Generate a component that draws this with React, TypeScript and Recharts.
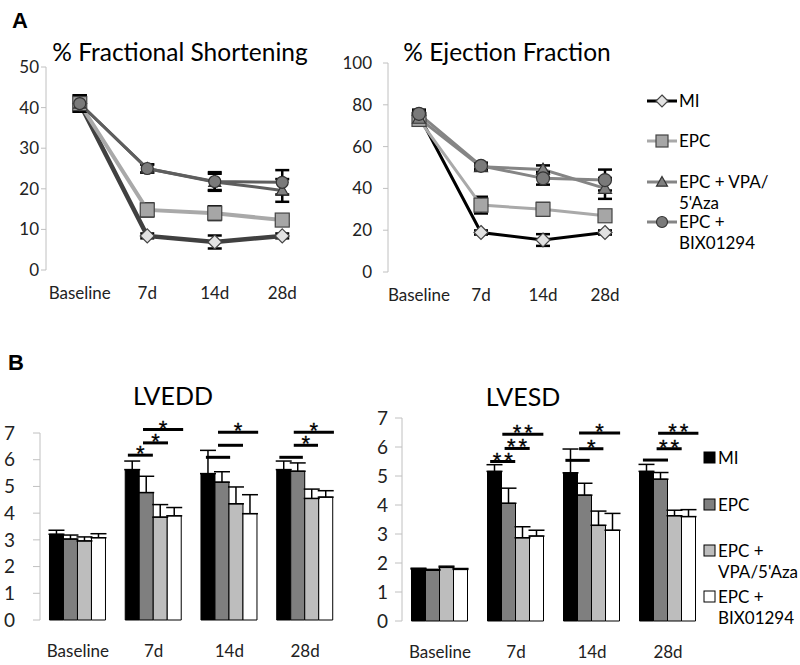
import React from 'react';
import { LineChart, Line, BarChart, Bar, XAxis, YAxis, ErrorBar, ReferenceLine } from 'recharts';

const FONT = 'Lato, "Open Sans", sans-serif';
const STAR_FONT = '"Liberation Sans", Arial, sans-serif';
const AXIS = '#c0c0c0';

const timepoints = ['Baseline', '7d', '14d', '28d'];
const groupNames = ['MI', 'EPC', "EPC + VPA/5'Aza", 'EPC + BIX01294'];

// % Fractional Shortening (mean, SEM)
const fsMI = [41, 8.4, 6.9, 8.4];
const fsMIErr = [2, 0.6, 1.6, 0.6];
const fsEPC = [41, 14.8, 14.0, 12.3];
const fsEPCErr = [2, 1.6, 1.7, 1.0];
const fsVPA = [41, 25.0, 21.7, 19.6];
const fsVPAErr = [2, 1.0, 2.0, 2.8];
const fsBIX = [41, 25.0, 21.8, 21.6];
const fsBIXErr = [2, 1.0, 2.3, 3.0];

// % Ejection Fraction (mean, SEM)
const efMI = [75, 18.9, 15.3, 18.9];
const efMIErr = [2, 1, 2.8, 1];
const efEPC = [73, 32, 30, 26.9];
const efEPCErr = [2, 4, 3, 1];
const efVPA = [73.5, 50.4, 49, 40];
const efVPAErr = [2, 1.5, 2, 5];
const efBIX = [75.7, 50.8, 44.8, 44];
const efBIXErr = [2, 1.5, 3, 5];

// LVEDD (mean, SEM)
const edMI = [3.21, 5.63, 5.48, 5.63];
const edMIErr = [0.15, 0.32, 0.87, 0.32];
const edEPC = [3.03, 4.77, 5.16, 5.57];
const edEPCErr = [0.15, 0.61, 0.39, 0.31];
const edVPA = [2.96, 3.85, 4.35, 4.55];
const edVPAErr = [0.15, 0.47, 0.63, 0.35];
const edBIX = [3.08, 3.9, 3.98, 4.6];
const edBIXErr = [0.15, 0.31, 0.71, 0.24];

// LVESD (mean, SEM)
const esMI = [1.79, 5.16, 5.11, 5.16];
const esMIErr = [0.03, 0.23, 0.82, 0.24];
const esEPC = [1.75, 4.06, 4.34, 4.89];
const esEPCErr = [0.03, 0.52, 0.41, 0.23];
const esVPA = [1.85, 2.87, 3.3, 3.63];
const esVPAErr = [0.04, 0.38, 0.49, 0.19];
const esBIX = [1.78, 2.93, 3.13, 3.6];
const esBIXErr = [0.03, 0.2, 0.58, 0.24];

// significance brackets (x in group units 0..4, y in data units)
const edSigX1 = [1.16, 1.36, 1.36, 2.19, 2.35, 2.35, 3.16, 3.35, 3.35];
const edSigX2 = [1.49, 1.69, 1.89, 2.51, 2.68, 2.88, 3.47, 3.67, 3.88];
const edSigY = [6.17, 6.63, 7.13, 6.09, 6.54, 7.03, 6.09, 6.54, 7.03];
const edSigLabel = ['*', '*', '*', '', '', '*', '', '*', '*'];

const esSigX1 = [1.16, 1.35, 1.32, 2.15, 2.33, 2.33, 3.17, 3.35, 3.37];
const esSigX2 = [1.49, 1.68, 1.86, 2.47, 2.65, 2.87, 3.5, 3.68, 3.9];
const esSigY = [5.5, 5.95, 6.44, 5.54, 5.94, 6.48, 5.55, 5.94, 6.47];
const esSigLabel = ['**', '**', '**', '', '*', '*', '', '**', '**'];

const fsTicks = [0, 10, 20, 30, 40, 50];
const efTicks = [0, 20, 40, 60, 80, 100];
const barTicks = [0, 1, 2, 3, 4, 5, 6, 7];
const groupTicks = [0, 1, 2, 3, 4];

const barFills = ['#000000', '#7f7f7f', '#bdbdbd', '#ffffff'];

const makeRows = (a: number[], ae: number[], b: number[], be: number[], c: number[], ce: number[], d: number[], de: number[], asPair: boolean) =>
  timepoints.map((t, i) => ({
    t,
    idx: i,
    mi: a[i], miErr: asPair ? [0, ae[i]] : ae[i],
    epc: b[i], epcErr: asPair ? [0, be[i]] : be[i],
    vpa: c[i], vpaErr: asPair ? [0, ce[i]] : ce[i],
    bix: d[i], bixErr: asPair ? [0, de[i]] : de[i],
  }));

const fsData = makeRows(fsMI, fsMIErr, fsEPC, fsEPCErr, fsVPA, fsVPAErr, fsBIX, fsBIXErr, false);
const efData = makeRows(efMI, efMIErr, efEPC, efEPCErr, efVPA, efVPAErr, efBIX, efBIXErr, false);
const edData = makeRows(edMI, edMIErr, edEPC, edEPCErr, edVPA, edVPAErr, edBIX, edBIXErr, true);
const esData = makeRows(esMI, esMIErr, esEPC, esEPCErr, esVPA, esVPAErr, esBIX, esBIXErr, true);

type Shape = 'diamond' | 'square' | 'triangle' | 'circle';

function Marker({ shape, cx, cy, fill, stroke, size }: { shape: Shape; cx: number; cy: number; fill: string; stroke: string; size: number }) {
  const s = size;
  if (shape === 'diamond') {
    return <path d={`M${cx},${cy - s} L${cx + s},${cy} L${cx},${cy + s} L${cx - s},${cy} Z`} fill={fill} stroke={stroke} strokeWidth={1.2} />;
  }
  if (shape === 'square') {
    return <rect x={cx - s} y={cy - s} width={2 * s} height={2 * s} fill={fill} stroke={stroke} strokeWidth={1.2} />;
  }
  if (shape === 'triangle') {
    return <path d={`M${cx},${cy - s} L${cx + s},${cy + s * 0.75} L${cx - s},${cy + s * 0.75} Z`} fill={fill} stroke={stroke} strokeWidth={1.2} />;
  }
  return <circle cx={cx} cy={cy} r={s} fill={fill} stroke={stroke} strokeWidth={1.2} />;
}

const dotFn = (shape: Shape, fill: string, stroke: string, size: number) => (p: any) => {
  const { cx, cy, index } = p;
  if (cx == null || cy == null) return <g key={`d${index}`} />;
  return (
    <g key={`d${index}`}>
      <Marker shape={shape} cx={cx} cy={cy} fill={fill} stroke={stroke} size={size} />
    </g>
  );
};

const StarLabel = ({ viewBox, text }: any) => {
  if (!viewBox || !text) return null;
  const double = text.length > 1;
  return (
    <text x={viewBox.x + viewBox.width / 2 + (double ? 1.5 : 0)} y={viewBox.y + 6} textAnchor="middle" fontSize={22}
      letterSpacing={double ? 3 : 0} fill="#000" stroke="#000" strokeWidth={0.3} fontFamily={STAR_FONT}>
      {text}
    </text>
  );
};

const lineKeys = ['mi', 'epc', 'vpa', 'bix'];
const shapes: Shape[] = ['diamond', 'square', 'triangle', 'circle'];
const markerFills = ['#e2e2e2', '#a6a6a6', '#808080', '#7a7a7a'];
const markerStrokes = ['#444', '#444', '#333', '#333'];
const fsLineColors = ['#404040', '#a9a9a9', '#5e5e5e', '#5e5e5e'];
const fsLineWidths = [4.5, 4, 3, 3];
const efLineColors = ['#000000', '#a9a9a9', '#858585', '#858585'];
const efLineWidths = [3, 3, 3, 3];
const fsSizes = [7, 7, 6, 6];
const efSizes = [7, 7, 6.5, 6.5];

function LinePanel({ data, ticks, domain, colors, widths, sizes, yTickMargin, yWidth, padding, width, height, margin }: any) {
  return (
    <LineChart width={width} height={height} data={data} margin={margin}>
      <XAxis xAxisId="n" dataKey="idx" type="number" domain={[0, 4]} ticks={groupTicks} tick={false} height={0} stroke={AXIS} tickSize={5} allowDataOverflow />
      <XAxis dataKey="t" padding={padding} axisLine={false} tickLine={false} interval={0} height={30} tickMargin={11}
        tick={{ fontSize: 17, fill: '#222', fontFamily: FONT }} />
      <YAxis domain={domain} ticks={ticks} width={yWidth} stroke={AXIS} tickSize={5} tickMargin={yTickMargin} interval={0}
        tick={{ fontSize: 17, fill: '#222', fontFamily: FONT }} />
      {lineKeys.map((k, i) => (
        <Line key={k} dataKey={k} stroke={colors[i]} strokeWidth={widths[i]} isAnimationActive={false}
          dot={dotFn(shapes[i], markerFills[i], markerStrokes[i], sizes[i])} activeDot={false}>
          <ErrorBar dataKey={`${k}Err`} width={7} strokeWidth={2.5} stroke="#000" direction="y" />
        </Line>
      ))}
    </LineChart>
  );
}

function BarPanel({ data, sx1, sx2, sy, sl, yTickMargin, yWidth, width, height, margin }: any) {
  const keys = ['mi', 'epc', 'vpa', 'bix'];
  return (
    <BarChart width={width} height={height} data={data} margin={margin} barCategoryGap="12.5%" barGap={0}>
      <XAxis xAxisId="n" dataKey="idx" type="number" domain={[0, 4]} ticks={groupTicks} tick={false} height={0} stroke={AXIS} tickSize={6} allowDataOverflow />
      <XAxis dataKey="t" axisLine={false} tickLine={false} interval={0} height={30} tickMargin={19}
        tick={{ fontSize: 17, fill: '#222', fontFamily: FONT }} />
      <YAxis domain={[0, 7]} ticks={barTicks} width={yWidth} stroke={AXIS} tickSize={7} tickMargin={yTickMargin} interval={0}
        tick={{ fontSize: 19, fill: '#222', fontFamily: FONT }} />
      {keys.map((k, i) => (
        <Bar key={k} dataKey={k} fill={barFills[i]} stroke="#000" strokeWidth={1} isAnimationActive={false}>
          <ErrorBar dataKey={`${k}Err`} width={8} strokeWidth={1.5} stroke="#000" direction="y" />
        </Bar>
      ))}
      {sx1.map((x1: number, i: number) => (
        <ReferenceLine key={`s${i}`} xAxisId="n" ifOverflow="visible" stroke="#000" strokeWidth={3}
          segment={[{ x: x1, y: sy[i] }, { x: sx2[i], y: sy[i] }]}
          label={(p: any) => <StarLabel viewBox={p.viewBox} text={sl[i]} />} />
      ))}
    </BarChart>
  );
}

const legendALineColors = ['#000000', '#a9a9a9', '#858585', '#858585'];
const legendALines = [["MI"], ["EPC"], ["EPC + VPA/", "5'Aza"], ["EPC +", "BIX01294"]];
const legendAY = [101, 141, 182, 222];
const legendBLines = [["MI"], ["EPC"], ["EPC +", "VPA/5'Aza"], ["EPC +", "BIX01294"]];
const legendBY = [458, 505, 551, 597];

export default function App() {
  return (
    <div style={{ position: 'absolute', left: 0, top: 0, width: 800, height: 665, background: '#fff', fontFamily: FONT }}>
      <div style={{ position: 'absolute', left: 0, top: 0 }}>
        <LinePanel data={fsData} ticks={fsTicks} domain={[0, 50]} colors={fsLineColors} widths={fsLineWidths} sizes={fsSizes}
          yTickMargin={2} yWidth={46} padding={{ left: 33.75, right: 33.75 }} width={330} height={320}
          margin={{ top: 67, right: 14, bottom: 20, left: 0 }} />
      </div>
      <div style={{ position: 'absolute', left: 330, top: 0 }}>
        <LinePanel data={efData} ticks={efTicks} domain={[0, 100]} colors={efLineColors} widths={efLineWidths} sizes={efSizes}
          yTickMargin={11} yWidth={58} padding={{ left: 31, right: 31 }} width={320} height={320}
          margin={{ top: 63, right: 14, bottom: 18, left: 0 }} />
      </div>
      <div style={{ position: 'absolute', left: 0, top: 370 }}>
        <BarPanel data={edData} sx1={edSigX1} sx2={edSigX2} sy={edSigY} sl={edSigLabel} yTickMargin={18} yWidth={40}
          width={360} height={295} margin={{ top: 63, right: 17, bottom: 15, left: 0 }} />
      </div>
      <div style={{ position: 'absolute', left: 360, top: 370 }}>
        <BarPanel data={esData} sx1={esSigX1} sx2={esSigX2} sy={esSigY} sl={esSigLabel} yTickMargin={7} yWidth={42}
          width={360} height={295} margin={{ top: 48, right: 14, bottom: 14, left: 0 }} />
      </div>
      <svg width={800} height={665} style={{ position: 'absolute', left: 0, top: 0, pointerEvents: 'none' }}>
        <text x={12} y={28} fontSize={22} fontWeight="bold" fontFamily='"Liberation Sans", Arial, sans-serif' fill="#000">A</text>
        <text x={8} y={370} fontSize={22} fontWeight="bold" fontFamily='"Liberation Sans", Arial, sans-serif' fill="#000">B</text>
        <text x={180} y={61} fontSize={24.5} textAnchor="middle" fontFamily={FONT} fill="#000">% Fractional Shortening</text>
        <text x={507} y={61} fontSize={24.5} textAnchor="middle" fontFamily={FONT} fill="#000">% Ejection Fraction</text>
        <text x={173} y={405} fontSize={25} textAnchor="middle" fontFamily={FONT} fill="#000">LVEDD</text>
        <text x={523} y={406} fontSize={25} textAnchor="middle" fontFamily={FONT} fill="#000">LVESD</text>
        {groupNames.map((n, i) => (
          <g key={`la${i}`}>
            <line x1={647} x2={677} y1={legendAY[i]} y2={legendAY[i]} stroke={legendALineColors[i]} strokeWidth={3} />
            <Marker shape={shapes[i]} cx={662} cy={legendAY[i]} fill={markerFills[i]} stroke={markerStrokes[i]} size={efSizes[i] - 1} />
            {legendALines[i].map((s, j) => (
              <text key={j} x={679} y={legendAY[i] + 6 + j * 21} fontSize={17} fontFamily={FONT} fill="#000">{s}</text>
            ))}
          </g>
        ))}
        {groupNames.map((n, i) => (
          <g key={`lb${i}`}>
            <rect x={704} y={legendBY[i] - 6} width={11} height={11} fill={barFills[i]} stroke="#000" strokeWidth={1} />
            {legendBLines[i].map((s, j) => (
              <text key={j} x={718} y={legendBY[i] + 6 + j * 21} fontSize={17} fontFamily={FONT} fill="#000">{s}</text>
            ))}
          </g>
        ))}
      </svg>
    </div>
  );
}
